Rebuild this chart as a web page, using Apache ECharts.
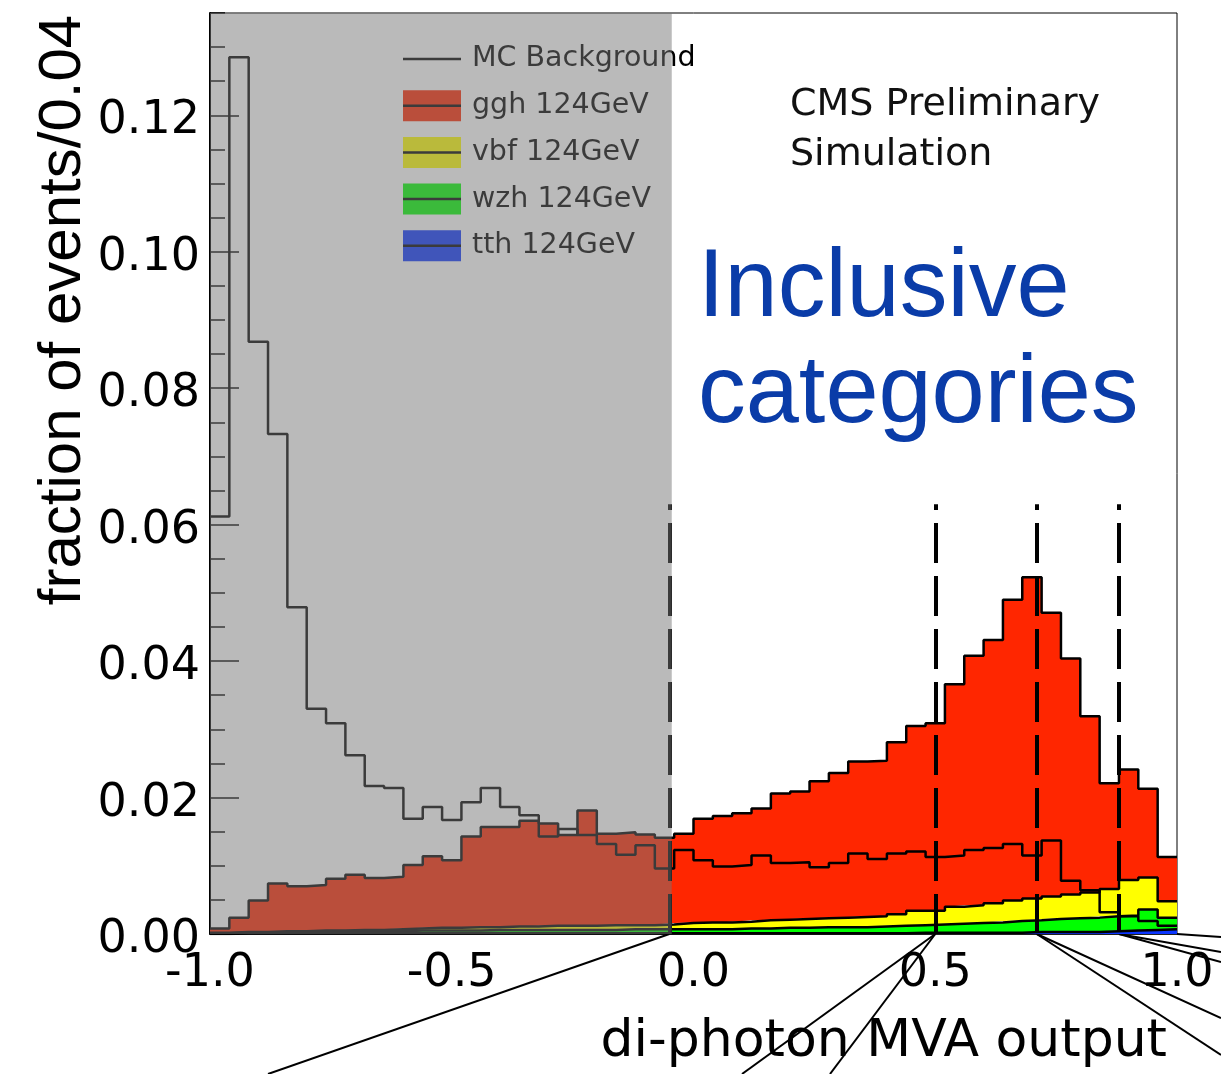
<!DOCTYPE html>
<html>
<head>
<meta charset="utf-8">
<title>di-photon MVA output</title>
<script src="https://cdn.jsdelivr.net/npm/echarts@6/dist/echarts.min.js"></script>
<style>
  html, body { margin: 0; padding: 0; background: #ffffff; }
  #chart { width: 1221px; height: 1074px; }
</style>
</head>
<body>
<div id="chart"></div>
<script>
// Bin edges of the di-photon MVA output histograms (bin width 0.04)
const binEdges = [
  -1.00, -0.96, -0.92, -0.88, -0.84, -0.80, -0.76, -0.72, -0.68, -0.64,
  -0.60, -0.56, -0.52, -0.48, -0.44, -0.40, -0.36, -0.32, -0.28, -0.24,
  -0.20, -0.16, -0.12, -0.08, -0.04, 0.00, 0.04, 0.08, 0.12, 0.16,
  0.20, 0.24, 0.28, 0.32, 0.36, 0.40, 0.44, 0.48, 0.52, 0.56,
  0.60, 0.64, 0.68, 0.72, 0.76, 0.80, 0.84, 0.88, 0.92, 0.96, 1.00
];

// Fraction of events per bin
const mcBackground = [
  0.0612, 0.1285, 0.0868, 0.0733, 0.0479, 0.0330, 0.0309, 0.0262, 0.0217, 0.0214,
  0.0169, 0.0186, 0.0167, 0.0193, 0.0214, 0.0186, 0.0174, 0.0143, 0.0154, 0.0145,
  0.0132, 0.0116, 0.0130, 0.0096, 0.0123, 0.0108, 0.0099, 0.0101, 0.0115, 0.0104,
  0.0105, 0.0098, 0.0104, 0.0118, 0.0110, 0.0118, 0.0121, 0.0113, 0.0115, 0.0123,
  0.0126, 0.0132, 0.0115, 0.0137, 0.0078, 0.0064, 0.0032, 0.0026, 0.0019, 0.0012
];
const ggh = [
  0.0006, 0.0021, 0.0046, 0.0070, 0.0066, 0.0067, 0.0076, 0.0081, 0.0076, 0.0077,
  0.0093, 0.0105, 0.0099, 0.0133, 0.0147, 0.0146, 0.0155, 0.0150, 0.0133, 0.0169,
  0.0134, 0.0136, 0.0133, 0.0127, 0.0131, 0.0152, 0.0156, 0.0159, 0.0164, 0.0185,
  0.0187, 0.0201, 0.0212, 0.0228, 0.0228, 0.0252, 0.0271, 0.0275, 0.0326, 0.0366,
  0.0386, 0.0441, 0.0471, 0.0416, 0.0346, 0.0258, 0.0155, 0.0162, 0.0130, 0.0065
];
const vbf = [
  0.0001, 0.0001, 0.0001, 0.0002, 0.0001, 0.0002, 0.0002, 0.0002, 0.0002, 0.0003,
  0.0003, 0.0004, 0.0004, 0.0005, 0.0004, 0.0005, 0.0005, 0.0006, 0.0006, 0.0006,
  0.0007, 0.0006, 0.0006, 0.0007, 0.0009, 0.0010, 0.0010, 0.0010, 0.0012, 0.0012,
  0.0013, 0.0013, 0.0014, 0.0015, 0.0015, 0.0017, 0.0021, 0.0020, 0.0025, 0.0026,
  0.0028, 0.0030, 0.0032, 0.0033, 0.0035, 0.0037, 0.0040, 0.0052, 0.0047, 0.0024
];
const wzh = [
  0.0001, 0.0001, 0.0001, 0.0001, 0.0002, 0.0002, 0.0002, 0.0003, 0.0003, 0.0003,
  0.0004, 0.0004, 0.0004, 0.0004, 0.0005, 0.0005, 0.0005, 0.0005, 0.0005, 0.0005,
  0.0005, 0.0006, 0.0006, 0.0006, 0.0006, 0.0006, 0.0006, 0.0007, 0.0007, 0.0008,
  0.0008, 0.0009, 0.0009, 0.0009, 0.0010, 0.0011, 0.0011, 0.0012, 0.0013, 0.0014,
  0.0015, 0.0017, 0.0017, 0.0019, 0.0020, 0.0021, 0.0022, 0.0022, 0.0030, 0.0017
];
const tth = [
  0.0000, 0.0001, 0.0001, 0.0001, 0.0001, 0.0001, 0.0001, 0.0001, 0.0001, 0.0001,
  0.0001, 0.0001, 0.0001, 0.0001, 0.0001, 0.0001, 0.0001, 0.0001, 0.0001, 0.0001,
  0.0001, 0.0001, 0.0001, 0.0001, 0.0001, 0.0001, 0.0001, 0.0001, 0.0001, 0.0001,
  0.0001, 0.0001, 0.0001, 0.0001, 0.0001, 0.0001, 0.0002, 0.0002, 0.0002, 0.0002,
  0.0002, 0.0002, 0.0003, 0.0003, 0.0003, 0.0003, 0.0004, 0.0005, 0.0006, 0.0007
];

// Category boundaries on the MVA output and the height of the dashed markers
const categoryCuts = [-0.05, 0.50, 0.71, 0.88];
const cutLineTop = 0.063;
// MVA range excluded from the categories (shaded)
const shadedRange = [-1.0, -0.045];

const yMax = 0.135;

const fillColors = {
  ggh: '#ff2600',
  vbf: '#ffff00',
  wzh: '#00ff00',
  tth: '#0a35ff'
};

// One value per bin edge: each bin's value holds until the next edge,
// the last edge repeats the last bin so the step closes at x = 1.0
function stepData(values) {
  return binEdges.map((x, i) => values[Math.min(i, values.length - 1)]);
}

function signalSeries(name, values, color, z) {
  return {
    name: name,
    type: 'line',
    xAxisIndex: 0,
    stack: 'signal',
    step: 'end',
    symbol: 'none',
    silent: true,
    z: z,
    data: stepData(values),
    itemStyle: { color: color },
    lineStyle: { color: '#000000', width: 2.5 },
    areaStyle: { color: color, opacity: 1 },
    emphasis: { disabled: true }
  };
}

// Connector lines running from the category boundaries towards the panels below/right
const connectorEnds = [
  { cut: -0.05, x: 268, y: 1074 },
  { cut: 0.50, x: 742, y: 1074 },
  { cut: 0.50, x: 830, y: 1074 },
  { cut: 0.71, x: 1221, y: 1055 },
  { cut: 0.71, x: 1221, y: 1018 },
  { cut: 0.88, x: 1221, y: 962 },
  { cut: 0.88, x: 1221, y: 952 },
  { cut: 1.00, x: 1221, y: 937 }
];

const cutMarkers = categoryCuts.map(c => [
  { coord: [c, 0], lineStyle: { color: '#000', width: 4, type: [40, 13] } },
  { coord: [c, cutLineTop] }
]);
const connectorMarkers = connectorEnds.map(e => [
  { coord: [e.cut, 0], lineStyle: { color: '#000', width: 2, type: 'solid' } },
  { x: e.x, y: e.y }
]);

const legendNames = ['MC Background', 'ggh 124GeV', 'vbf 124GeV', 'wzh 124GeV', 'tth 124GeV'];
const legendLayout = {
  orient: 'vertical',
  left: 403,
  top: 43.5,
  itemWidth: 58,
  itemHeight: 31,
  itemGap: 15.7,
  padding: 0,
  selectedMode: false,
  z: 4
};
const legendText = { fontFamily: 'DejaVu Sans', fontSize: 28.5, lineHeight: 31, padding: [0, 0, 0, 6] };

const chart = echarts.init(document.getElementById('chart'), null, { renderer: 'canvas' });

chart.setOption({
  animation: false,
  backgroundColor: '#ffffff',
  textStyle: { fontFamily: 'DejaVu Sans' },
  grid: {
    left: 210, right: 44, top: 13, bottom: 140,
    show: true, borderColor: '#000000', borderWidth: 1,
    backgroundColor: 'transparent', containLabel: false
  },
  xAxis: [
    {
      // bin edges carrying the histogram steps
      type: 'category',
      data: binEdges,
      boundaryGap: false,
      show: false
    },
    {
      type: 'value',
      min: -1, max: 1, interval: 0.5,
      position: 'bottom',
      axisLine: { show: true, onZero: false, lineStyle: { color: '#000', width: 1.5 } },
      axisTick: { show: false },
      splitLine: { show: false },
      axisLabel: {
        formatter: v => v.toFixed(1),
        fontFamily: 'DejaVu Sans', fontSize: 46, color: '#000', margin: 17
      }
    }
  ],
  yAxis: [
    {
      type: 'value',
      min: 0, max: yMax, interval: 0.02,
      position: 'left',
      axisLine: { show: true, onZero: false, lineStyle: { color: '#000', width: 2 } },
      axisTick: { show: true, inside: true, length: 29, lineStyle: { color: '#000', width: 1.5 } },
      splitLine: { show: false },
      axisLabel: {
        formatter: v => v.toFixed(2),
        fontFamily: 'DejaVu Sans', fontSize: 46, color: '#000', margin: 10,
        verticalAlign: 'top', lineHeight: 12,
        showMaxLabel: false
      }
    },
    {
      type: 'value',
      position: 'left',
      min: 0, max: yMax, interval: 0.005,
      axisLine: { show: false, onZero: false },
      axisTick: { show: true, inside: true, length: 15, lineStyle: { color: '#000', width: 1.5 } },
      axisLabel: { show: false },
      splitLine: { show: false }
    }
  ],
  legend: [
    Object.assign({}, legendLayout, {
      icon: 'rect',
      itemStyle: { borderWidth: 0 },
      textStyle: Object.assign({ color: '#000' }, legendText),
      data: [
        { name: 'MC Background', itemStyle: { opacity: 0 } },
        { name: 'ggh 124GeV', itemStyle: { color: fillColors.ggh } },
        { name: 'vbf 124GeV', itemStyle: { color: fillColors.vbf } },
        { name: 'wzh 124GeV', itemStyle: { color: fillColors.wzh } },
        { name: 'tth 124GeV', itemStyle: { color: fillColors.tth } }
      ]
    }),
    Object.assign({}, legendLayout, {
      // thin centred stroke: the tiny corner specks keep the full 58x31 box
      icon: 'path://M0,0H0.01V0.01H0Z M0,14.25H58V16.75H0Z M57.99,30.99H58V31H57.99Z',
      itemStyle: { color: '#000', borderWidth: 0 },
      textStyle: Object.assign({ color: 'rgba(0,0,0,0)' }, legendText),
      data: legendNames
    })
  ],
  graphic: [
    {
      type: 'text', x: 790, y: 105, z: 20,
      style: { text: 'CMS Preliminary', fontFamily: 'DejaVu Sans', fontSize: 38, fill: '#111',
               align: 'left', verticalAlign: 'middle' }
    },
    {
      type: 'text', x: 790, y: 155, z: 20,
      style: { text: 'Simulation', fontFamily: 'DejaVu Sans', fontSize: 38, fill: '#111',
               align: 'left', verticalAlign: 'middle' }
    },
    {
      type: 'text', x: 698, y: 290, z: 20,
      style: { text: 'Inclusive', fontFamily: 'Liberation Sans', fontSize: 95.5, fill: '#0a3ca8',
               align: 'left', verticalAlign: 'middle' }
    },
    {
      type: 'text', x: 698, y: 396, z: 20,
      style: { text: 'categories', fontFamily: 'Liberation Sans', fontSize: 95.5, fill: '#0a3ca8',
               align: 'left', verticalAlign: 'middle' }
    },
    {
      type: 'text', x: 63, y: 310, rotation: Math.PI / 2,
      style: { text: 'fraction of events/0.04', fontFamily: 'Liberation Sans', fontSize: 60, fill: '#000',
               align: 'center', verticalAlign: 'middle' }
    },
    {
      type: 'text', x: 1167, y: 1042,
      style: { text: 'di-photon MVA output', fontFamily: 'DejaVu Sans', fontSize: 52, fill: '#000',
               align: 'right', verticalAlign: 'middle' }
    }
  ],
  series: [
    signalSeries('tth 124GeV', tth, fillColors.tth, 5),
    signalSeries('wzh 124GeV', wzh, fillColors.wzh, 4),
    signalSeries('vbf 124GeV', vbf, fillColors.vbf, 3),
    signalSeries('ggh 124GeV', ggh, fillColors.ggh, 2),
    {
      name: 'MC Background',
      type: 'line',
      xAxisIndex: 0,
      step: 'end',
      symbol: 'none',
      silent: true,
      z: 6,
      data: stepData(mcBackground),
      itemStyle: { color: '#000' },
      lineStyle: { color: '#000', width: 2.5 },
      emphasis: { disabled: true }
    },
    {
      // category boundaries drawn on the MVA value axis
      name: 'category boundaries',
      type: 'line',
      xAxisIndex: 1,
      data: [],
      silent: true,
      z: 5,
      markLine: {
        silent: true,
        symbol: ['none', 'none'],
        label: { show: false },
        emphasis: { disabled: true },
        data: cutMarkers.concat(connectorMarkers)
      }
    },
    {
      name: 'excluded region',
      type: 'custom',
      xAxisIndex: 1,
      silent: true,
      z: 10,
      data: [shadedRange],
      renderItem: function (params, api) {
        const topLeft = api.coord([api.value(0), yMax]);
        const bottomRight = api.coord([api.value(1), 0]);
        return {
          type: 'rect',
          shape: {
            x: topLeft[0], y: topLeft[1],
            width: bottomRight[0] - topLeft[0],
            height: bottomRight[1] - topLeft[1]
          },
          style: { fill: 'rgba(118,118,118,0.5)' }
        };
      }
    }
  ]
});
</script>
</body>
</html>
